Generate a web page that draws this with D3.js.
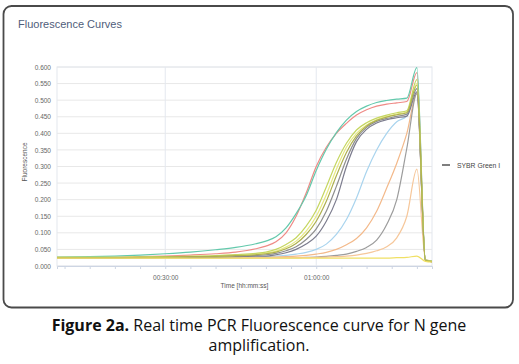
<!DOCTYPE html>
<html><head><meta charset="utf-8">
<script src="https://cdn.jsdelivr.net/npm/d3@7"></script>
<style>
html,body{margin:0;padding:0;background:#fff;}
svg{display:block;}
</style></head>
<body>
<svg id="c" width="519" height="364"></svg>
<script>
// time in minutes
const times = [8.5, 15, 20, 25, 30, 35, 40, 44, 48, 50, 52, 54, 56, 58, 60, 62, 64, 66, 68, 70, 72, 74, 76, 78, 80, 81.7, 83];
const seriesNames = ["lightblue","orange","gray","orange2","red","teal","g5","g4","g2","g1","g3","yellow"];
const seriesColors = ["#a9d4ee","#f3b98a","#9c9c9c","#f6c79a","#ef8a86","#63c9ac","#7c7c8e","#8e8e8e","#e8ea80","#c5d660","#aeb04e","#f0e064"];
const lightblue = [0.025,0.025,0.025,0.025,0.025,0.025,0.026,0.026,0.027,0.028,0.030,0.032,0.036,0.041,0.050,0.066,0.095,0.140,0.205,0.285,0.350,0.400,0.435,0.452,0.535,0.017,0.014];
const orange    = [0.025,0.025,0.025,0.025,0.025,0.025,0.025,0.025,0.026,0.026,0.027,0.028,0.030,0.032,0.036,0.041,0.050,0.064,0.083,0.115,0.165,0.235,0.310,0.400,0.520,0.017,0.014];
const gray      = [0.025,0.025,0.025,0.025,0.025,0.025,0.025,0.025,0.025,0.025,0.025,0.025,0.025,0.026,0.027,0.029,0.032,0.036,0.044,0.056,0.078,0.125,0.200,0.355,0.520,0.016,0.013];
const orange2   = [0.025,0.025,0.025,0.025,0.025,0.025,0.025,0.025,0.025,0.025,0.025,0.025,0.025,0.025,0.026,0.027,0.028,0.030,0.033,0.038,0.046,0.058,0.085,0.150,0.292,0.020,0.015];
const red       = [0.026,0.026,0.027,0.028,0.030,0.033,0.037,0.042,0.052,0.060,0.073,0.100,0.150,0.220,0.300,0.358,0.400,0.430,0.455,0.471,0.482,0.488,0.492,0.496,0.583,0.016,0.013];
const teal      = [0.027,0.028,0.030,0.033,0.037,0.042,0.049,0.056,0.067,0.075,0.088,0.115,0.158,0.212,0.288,0.352,0.402,0.440,0.466,0.482,0.493,0.499,0.503,0.506,0.598,0.018,0.015];
const g5        = [0.025,0.025,0.025,0.025,0.026,0.026,0.027,0.028,0.030,0.030,0.034,0.040,0.050,0.066,0.090,0.135,0.200,0.300,0.375,0.412,0.431,0.441,0.447,0.452,0.525,0.016,0.013];
const g4        = [0.025,0.025,0.025,0.026,0.027,0.027,0.028,0.030,0.032,0.034,0.038,0.046,0.058,0.080,0.112,0.165,0.240,0.322,0.385,0.418,0.436,0.445,0.451,0.458,0.535,0.016,0.013];
const g2        = [0.026,0.026,0.026,0.027,0.028,0.029,0.030,0.032,0.036,0.039,0.045,0.057,0.075,0.105,0.150,0.215,0.292,0.358,0.400,0.425,0.441,0.451,0.458,0.465,0.550,0.017,0.014];
const g1        = [0.026,0.026,0.026,0.027,0.028,0.029,0.031,0.034,0.038,0.042,0.050,0.065,0.085,0.120,0.168,0.238,0.312,0.370,0.410,0.432,0.446,0.455,0.462,0.468,0.562,0.017,0.014];
const g3        = [0.025,0.025,0.025,0.026,0.027,0.028,0.029,0.031,0.034,0.037,0.042,0.052,0.068,0.095,0.135,0.195,0.272,0.342,0.392,0.422,0.439,0.449,0.456,0.462,0.545,0.016,0.013];
const yellow    = [0.024,0.024,0.024,0.024,0.024,0.024,0.024,0.024,0.024,0.024,0.024,0.024,0.024,0.024,0.024,0.024,0.024,0.024,0.024,0.024,0.024,0.024,0.025,0.026,0.030,0.014,0.012];
const seriesValues = [lightblue,orange,gray,orange2,red,teal,g5,g4,g2,g1,g3,yellow];
const yTicks = [0,0.05,0.1,0.15,0.2,0.25,0.3,0.35,0.4,0.45,0.5,0.55,0.6];
const xMinorTicks = [10,15,20,25,30,35,40,45,50,55,60,65,70,75,80];
const xLabelTicks = [30,60];
const xLabels = ["00:30:00","01:00:00"];
const legendLabel = "SYBR Green I";

const svg = d3.select("#c");
// frame
svg.append("rect").attr("x",3.5).attr("y",6).attr("width",509.5).attr("height",301.5)
  .attr("rx",8).attr("fill","#fff").attr("stroke","#4a4a4a").attr("stroke-width",1.8);
svg.append("text").attr("x",18).attr("y",28).text("Fluorescence Curves")
  .attr("font-family","Liberation Sans, Arial, sans-serif").attr("font-size",11).attr("fill","#4f5d7a");

const x = d3.scaleLinear().domain([8.5,83]).range([57,432]);
const y = d3.scaleLinear().domain([0,0.6]).range([266,67]);

const g = svg.append("g");
// grid
g.selectAll(".hg").data(yTicks).enter().append("line")
  .attr("x1",57).attr("x2",432).attr("y1",d=>y(d)).attr("y2",d=>y(d))
  .attr("stroke","#e8e8e8").attr("stroke-width",1);
g.selectAll(".vg").data(xLabelTicks).enter().append("line")
  .attr("x1",d=>x(d)).attr("x2",d=>x(d)).attr("y1",67).attr("y2",266)
  .attr("stroke","#e4e8ef").attr("stroke-width",1);
// plot border
g.append("rect").attr("x",57).attr("y",67).attr("width",375).attr("height",199)
  .attr("fill","none").attr("stroke","#e3e7ee").attr("stroke-width",1);

// y axis
const yAxis = d3.axisLeft(y).tickValues(yTicks).tickFormat(d3.format(".3f")).tickSize(0).tickPadding(6);
const ya = g.append("g").attr("transform","translate(57,0)").call(yAxis);
ya.select(".domain").remove();
ya.selectAll("text").attr("font-family","Liberation Sans, Arial, sans-serif").attr("font-size",6.5).attr("fill","#666");

// x axis
const xAxis = d3.axisBottom(x).tickValues(xMinorTicks).tickSize(3).tickFormat(d=>{const i=xLabelTicks.indexOf(d);return i>=0?xLabels[i]:"";}).tickPadding(6);
const xa = g.append("g").attr("transform","translate(0,266)").call(xAxis);
xa.select(".domain").attr("stroke","#cdd5e3");
xa.selectAll(".tick line").attr("stroke","#cdd5e3");
xa.selectAll("text").attr("font-family","Liberation Sans, Arial, sans-serif").attr("font-size",6.5).attr("fill","#666");

svg.append("text").attr("x",244.5).attr("y",288).attr("text-anchor","middle").text("Time [hh:mm:ss]")
  .attr("font-family","Liberation Sans, Arial, sans-serif").attr("font-size",6.5).attr("fill","#555");
svg.append("text").attr("transform","translate(27,162) rotate(-90)").attr("text-anchor","middle").text("Fluorescence")
  .attr("font-family","Liberation Sans, Arial, sans-serif").attr("font-size",6.5).attr("fill","#555");

// curves
const line = d3.line().x((d,i)=>x(times[i])).y(d=>y(d)).curve(d3.curveMonotoneX);
seriesValues.forEach((vals,k)=>{
  g.append("path").datum(vals).attr("d",line).attr("fill","none")
    .attr("stroke",seriesColors[k]).attr("stroke-width",1.2);
});

// legend
svg.append("line").attr("x1",442).attr("x2",450).attr("y1",165).attr("y2",165).attr("stroke","#555").attr("stroke-width",1.5);
svg.append("text").attr("x",457).attr("y",167.5).text(legendLabel)
  .attr("font-family","Liberation Sans, Arial, sans-serif").attr("font-size",6.8).attr("fill","#444");

// caption
const cap = svg.append("text").attr("x",259).attr("y",331).attr("text-anchor","middle")
  .attr("font-family","Open Sans, sans-serif").attr("font-size",16).attr("fill","#111");
cap.append("tspan").attr("font-weight","bold").text("Figure 2a.");
cap.append("tspan").text(" Real time PCR Fluorescence curve for N gene");
svg.append("text").attr("x",259).attr("y",351).attr("text-anchor","middle")
  .attr("font-family","Open Sans, sans-serif").attr("font-size",16).attr("fill","#111").text("amplification.");
</script>
</body></html>
